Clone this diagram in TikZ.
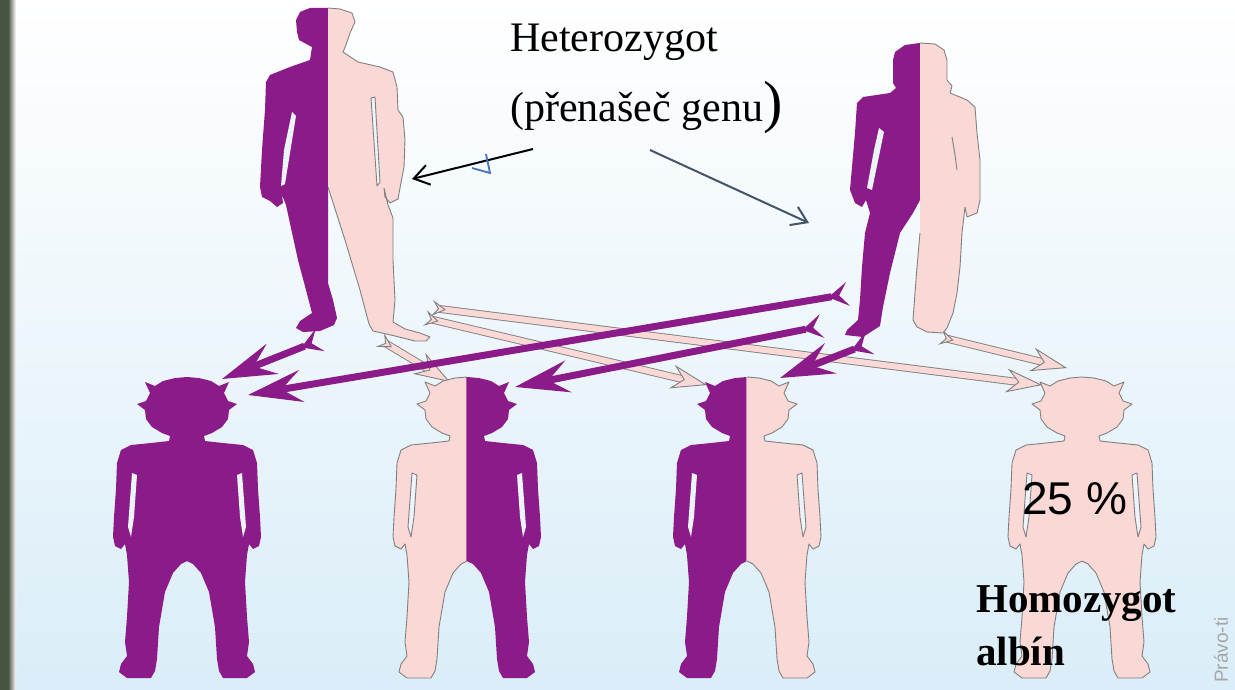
\documentclass[tikz,border=0pt]{standalone}
\usepackage{fontspec}
\setmainfont{Liberation Serif}
\newfontfamily\arialfont{Liberation Sans}
\usetikzlibrary{arrows.meta}

\definecolor{albpurple}{RGB}{139,27,136}
\definecolor{albpink}{RGB}{250,216,214}
\definecolor{skinline}{RGB}{128,128,128}
\definecolor{slate}{RGB}{68,84,106}
\definecolor{markblue}{RGB}{68,114,196}
\definecolor{gapcol}{RGB}{236,243,249}
\definecolor{strip}{RGB}{72,84,66}
\definecolor{skybottom}{RGB}{218,237,248}

\tikzstyle{purplefill}=[fill=albpurple]
\tikzstyle{purpleline}=[draw=none]
\tikzstyle{pinkfill}=[fill=albpink]
\tikzstyle{pinkline}=[draw=skinline, line width=0.9pt, line join=round]
\tikzstyle{gene}=[draw=albpurple, line width=7pt,
  {Stealth[reversed,length=20pt,width=24pt,inset=9pt]}-{Stealth[length=54pt,width=32pt,inset=20pt]}]
\tikzstyle{nogene}=[draw=skinline, line width=0.9pt, double=albpink, double distance=6pt,
  {Stealth[reversed,length=14pt,width=16pt,inset=6pt,fill=albpink]}-{Stealth[length=36pt,width=24pt,inset=12pt,fill=albpink]}]
\tikzstyle{pointer}=[line width=2pt, -{Straight Barb[length=15pt,width=20pt]}]

% right half of a child, head top at (0,0)
\newcommand{\kidhalf}{(0,0) -- (12,1) -- (24,4) -- (32,9) -- (42,5) -- (37,16) -- (41,24)
  -- (50,27) -- (42,33) -- (41,42) -- (35,50) -- (25,56) -- (17,59) -- (18,64) -- (36,66)
  -- (56,68) -- (66,73) -- (70,86) -- (71,112) -- (73,140) -- (74,160) -- (72,169)
  -- (66,172) -- (62,167) -- (60,178) -- (58,205) -- (60,240) -- (62,265) -- (60,279)
  -- (66,287) -- (68,295) -- (60,301) -- (36,301) -- (32,294) -- (30,282) -- (28,250)
  -- (22,215) -- (14,196) -- (6,187) -- (0,184)}
\newcommand{\kidgap}{(50,98) -- (55,96) -- (59,150) -- (56,160) -- (53,140) -- cycle}
\newcommand{\kidside}[1]{%
  \path[#1fill] \kidhalf -- (-0.6,184) -- (-0.6,0) -- cycle;
  \path[#1line] \kidhalf;
  \path[#1line, fill=gapcol] \kidgap;}
% #1 = x of the child, #2 = colour of its left side, #3 = of its right side
\newcommand{\kid}[3]{%
  \begin{scope}[shift={(#1,377)}]
    \begin{scope}[xscale=-1]\kidside{#2}\end{scope}
    \kidside{#3}
  \end{scope}}

\begin{document}
\begin{tikzpicture}[x=1pt, y=-1pt]
\useasboundingbox (0,0) rectangle (1235,690);
\shade[top color=white, bottom color=skybottom] (0,0) rectangle (1235,690);
\fill[strip] (0,0) rectangle (8,690);
\shade[left color=strip, right color=strip!0] (8,0) rectangle (16,690);

% where the arrows start and end
\coordinate (dadP) at (320,340);
\coordinate (dadQ) at (380,340);
\coordinate (dadR) at (425,318);
\coordinate (dadS) at (432,308);
\coordinate (momP) at (848,294);
\coordinate (momQ) at (822,326);
\coordinate (momR) at (870,343);
\coordinate (momS) at (940,337);
\coordinate (kidA) at (222,379);
\coordinate (kidAb) at (248,395);
\coordinate (kidB) at (515,387);
\coordinate (kidBb) at (450,382);
\coordinate (kidC) at (780,378);
\coordinate (kidCb) at (707,385);
\coordinate (kidD) at (1042,385);
\coordinate (kidDb) at (1067,368);

\path[nogene] (dadQ) -- (kidBb);
\path[nogene] (dadR) -- (kidCb);
\path[nogene] (dadS) -- (kidD);
\path[nogene] (momS) -- (kidDb);
\path[gene] (dadP) -- (kidA);
\path[gene] (momP) -- (kidAb);
\path[gene] (momQ) -- (kidB);
\path[gene] (momR) -- (kidC);

% father
\path[purplefill] (328,8) -- (310,8) -- (300,12) -- (296,20) -- (297,32) -- (299,40) -- (312,47)
  -- (310,60) -- (290,67) -- (270,75) -- (266,82) -- (265,110) -- (262,150) -- (260,187)
  -- (262,197) -- (270,201) -- (277,207) -- (283,203) -- (282,195) -- (286,205) -- (291,228)
  -- (298,260) -- (306,290) -- (312,313) -- (300,321) -- (296,328) -- (303,332) -- (320,331)
  -- (334,325) -- (337,318) -- (333,300) -- (328,283) -- cycle;
\path[fill=gapcol] (292,112) -- (296,116) -- (285,184) -- (281,186) -- (284,150) -- cycle;
\path[pinkfill] (328,8) -- (340,9) -- (352,13) -- (355,22) -- (350,33) -- (346,45) -- (343,52)
  -- (358,62) -- (380,67) -- (393,72) -- (397,87) -- (398,110) -- (403,117) -- (405,140)
  -- (404,167) -- (400,188) -- (398,199) -- (390,203) -- (385,197) -- (384,188) -- (388,205)
  -- (393,218) -- (393,260) -- (395,300) -- (393,322) -- (405,329) -- (420,333) -- (430,337)
  -- (426,341) -- (415,341) -- (395,336) -- (373,331) -- (369,324) -- (360,290) -- (345,240)
  -- (328,187) -- cycle;
\path[pinkline] (328,8) -- (340,9) -- (352,13) -- (355,22) -- (350,33) -- (346,45) -- (343,52)
  -- (358,62) -- (380,67) -- (393,72) -- (397,87) -- (398,110) -- (403,117) -- (405,140)
  -- (404,167) -- (400,188) -- (398,199) -- (390,203) -- (385,197) -- (384,188) -- (388,205)
  -- (393,218) -- (393,260) -- (395,300) -- (393,322) -- (405,329) -- (420,333) -- (430,337)
  -- (426,341) -- (415,341) -- (395,336) -- (373,331) -- (369,324) -- (360,290) -- (345,240)
  -- (328,187);
\path[pinkline, fill=gapcol] (371,98) -- (375,97) -- (380,182) -- (377,186) -- cycle;

% mother
\path[purplefill] (920,43) -- (905,45) -- (895,52) -- (893,60) -- (893,83) -- (896,88) -- (890,93)
  -- (863,97) -- (857,103) -- (855,133) -- (852,167) -- (850,190) -- (855,203) -- (862,207)
  -- (866,200) -- (870,213) -- (865,233) -- (862,267) -- (860,300) -- (858,320) -- (847,330)
  -- (845,335) -- (863,337) -- (880,326) -- (883,307) -- (890,273) -- (900,233) -- (913,213)
  -- (920,200) -- cycle;
\path[fill=gapcol] (879,128) -- (884,132) -- (872,190) -- (867,188) -- (874,150) -- cycle;
\path[pinkfill] (920,43) -- (935,44) -- (944,50) -- (947,60) -- (947,80) -- (952,86) -- (950,93)
  -- (967,100) -- (975,107) -- (977,133) -- (980,160) -- (980,200) -- (977,213) -- (967,217)
  -- (965,207) -- (962,233) -- (960,267) -- (957,293) -- (953,313) -- (947,328) -- (943,333)
  -- (927,332) -- (917,327) -- (913,320) -- (915,293) -- (917,267) -- (920,233) -- cycle;
\path[pinkline] (920,43) -- (935,44) -- (944,50) -- (947,60) -- (947,80) -- (952,86) -- (950,93)
  -- (967,100) -- (975,107) -- (977,133) -- (980,160) -- (980,200) -- (977,213) -- (967,217)
  -- (965,207) -- (962,233) -- (960,267) -- (957,293) -- (953,313) -- (947,328) -- (943,333)
  -- (927,332) -- (917,327) -- (913,320) -- (915,293) -- (917,267) -- (920,233);
\path[pinkline] (952,137) -- (955,155) -- (957,170);

% children
\kid{187}{purple}{purple}
\kid{467}{pink}{purple}
\kid{747}{purple}{pink}
\kid{1082}{pink}{pink}

% labels
\begin{scope}[every node/.style={inner sep=0pt, anchor=base west}]
  \node (het) at (510,52) {\fontsize{42}{48}\selectfont Heterozygot};
  \node (carrier) at (510,122) {\fontsize{42}{48}\selectfont (přenašeč genu{\fontsize{58}{60}\selectfont )}};
  \node (pct) at (1022,514) {\arialfont\fontsize{46}{50}\selectfont 25 \%};
  \node (homo) at (976,612) {\fontsize{41}{46}\selectfont\bfseries Homozygot};
  \node (albino) at (976,665) {\fontsize{41}{46}\selectfont\bfseries albín};
\end{scope}
\node[rotate=90, inner sep=0pt, text=gray!70, font=\arialfont\fontsize{19}{19}\selectfont] (mark) at (1221,650) {Právo-ti};

\coordinate (txtA) at (533,149);
\coordinate (txtB) at (650,150);
\coordinate (dadarm) at (412,179);
\coordinate (momarm) at (809,223);
\path[pointer, draw=black] (txtA) -- (dadarm);
\path[pointer, draw=slate] (txtB) -- (momarm);
\coordinate (tick) at (490,173);
\path[draw=markblue, line width=1.8pt] (486,154) -- (tick) -- (472,168);
\end{tikzpicture}
\end{document}
